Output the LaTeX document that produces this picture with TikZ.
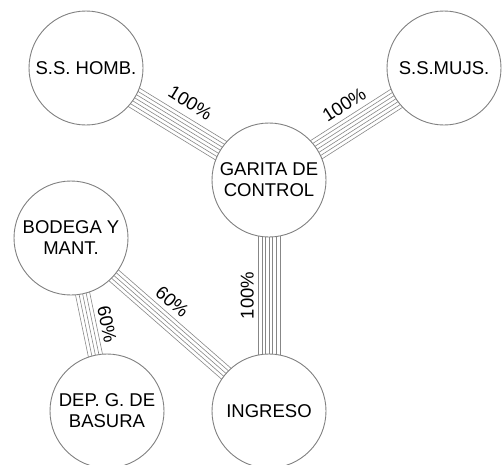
\documentclass[tikz,border=0pt]{standalone}
\usepackage{fontspec}
\setmainfont{Liberation Sans}
\usepackage{tikz}
\usetikzlibrary{calc, backgrounds}
\definecolor{rimgray}{RGB}{128,128,128}
\definecolor{wiregray}{RGB}{135,135,135}

\begin{document}
\begin{tikzpicture}[
    x=1pt, y=-1pt,
    zone/.style={circle, draw=rimgray, line width=0.9pt, fill=white,
                 minimum size=114pt, inner sep=1pt, align=center,
                 font=\fontsize{18.5}{21}\selectfont},
    wire/.style={draw=wiregray, line width=0.6pt},
    pct/.style={sloped, inner sep=0pt,
                font=\fontsize{18.5}{21}\selectfont}
]
\useasboundingbox (0,0) rectangle (503,464);

\node (homb)    [zone] at (86,68)   {S.S. HOMB.};
\node (mujs)    [zone] at (444,68)  {S.S.MUJS.};
\node (garita)  [zone] at (269,180) {GARITA DE\\CONTROL};
\node (bodega)  [zone] at (71,238)  {BODEGA Y\\MANT.};
\node (basura)  [zone] at (107,411) {DEP. G. DE\\BASURA};
\node (ingreso) [zone] at (269,411) {INGRESO};

% bundles of lines behind the circles
\begin{pgfonlayer}{background}
\foreach \o in {-3,...,3} {
  \draw [wire] ($(homb)!\o*3.6pt!90:(garita)$)    -- ($(garita)!\o*3.6pt!-90:(homb)$);
  \draw [wire] ($(garita)!\o*3.6pt!90:(mujs)$)    -- ($(mujs)!\o*3.6pt!-90:(garita)$);
  \draw [wire] ($(garita)!\o*3.6pt!90:(ingreso)$) -- ($(ingreso)!\o*3.6pt!-90:(garita)$);
}
\foreach \o in {-2,...,2} {
  \draw [wire] ($(bodega)!\o*3.6pt!90:(basura)$)  -- ($(basura)!\o*3.6pt!-90:(bodega)$);
  \draw [wire] ($(bodega)!\o*3.6pt!90:(ingreso)$) -- ($(ingreso)!\o*3.6pt!-90:(bodega)$);
}
\end{pgfonlayer}

\path (homb)    -- node[pct, above=18pt, pos=0.5]  {100\%} (garita);
\path (garita)  -- node[pct, above=16pt, pos=0.5]  {100\%} (mujs);
\path (ingreso) -- node[pct, above=15pt, pos=0.5]  {100\%} (garita);
\path (bodega)  -- node[pct, above=11pt, pos=0.55] {60\%}  (basura);
\path (bodega)  -- node[pct, above=12pt, pos=0.41] {60\%}  (ingreso);
\end{tikzpicture}
\end{document}
